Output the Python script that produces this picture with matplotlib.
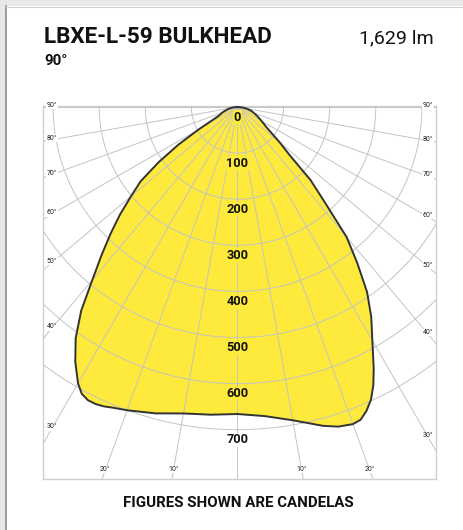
import numpy as np
import matplotlib
matplotlib.use("Agg")
import matplotlib.pyplot as plt
from matplotlib.patches import Rectangle

# ---------------- data ----------------
title = "LBXE-L-59 BULKHEAD"
subtitle = "90°"
lumens = "1,629 lm"
footer = "FIGURES SHOWN ARE CANDELAS"

ring_values = [0, 100, 200, 300, 400, 500, 600, 700]
angle_ticks = [10, 20, 30, 40, 50, 60, 70, 80, 90]

# gamma angles (deg, 0 = straight down, negative = left half, positive = right half)
angles = [-90, -85, -80, -75, -70, -65, -62.5, -60, -57.5, -55, -52.5, -50, -47.5,
          -45, -42.5, -40, -37.5, -35, -32.5, -30, -28.5, -27, -25.5, -24, -22.5, -20,
          -15, -10, -5,
          0, 5, 10, 15, 17.5, 20, 21.5, 23, 24.5, 26, 27.5, 30, 32.5, 35, 37.5, 40,
          42.5, 45, 47.5, 50, 55, 60, 65, 70, 75, 80, 85, 90]
candelas = [0, 10, 18, 25, 35, 45, 60, 97, 152, 209, 265, 302, 346,
            390, 437, 490, 557, 612, 655, 692, 708, 714, 714, 711, 706, 700,
            688, 675, 670,
            666, 673, 690, 716, 727, 732, 729, 716, 698, 672, 640, 585, 540, 490, 427, 368,
            280, 224, 150, 120, 77, 60, 48, 38, 30, 20, 10, 0]

# ---------------- layout ----------------
W, H = 464, 530
fig = plt.figure(figsize=(W / 100, H / 100), dpi=100)
fig.patch.set_facecolor("white")

# page frame (grey strips at top/left)
fig.patches.append(Rectangle((0, 1 - 6 / H), 1, 6 / H, transform=fig.transFigure,
                             facecolor="#e8e8e8", edgecolor="none", zorder=0))
fig.patches.append(Rectangle((0, 0), 6 / W, 1, transform=fig.transFigure,
                             facecolor="#e8e8e8", edgecolor="none", zorder=0))
fig.add_artist(plt.Line2D([6.5 / W, 6.5 / W], [0, 1 - 6 / H], transform=fig.transFigure,
                          color="#8c8c8c", lw=1.2))
fig.add_artist(plt.Line2D([6.5 / W, 1], [1 - 6.5 / H, 1 - 6.5 / H], transform=fig.transFigure,
                          color="#cfcfcf", lw=0.8))

fam = ["Roboto", "DejaVu Sans"]
fig.text(44 / W, 1 - 43 / H, title, fontsize=16.2, fontweight="bold", family=fam,
         ha="left", va="baseline", color="#111111")
fig.text(434 / W, 1 - 43 / H, lumens, fontsize=14, family=fam,
         ha="right", va="baseline", color="#111111")
fig.text(44 / W, 1 - 65 / H, subtitle, fontsize=10.8, fontweight="bold", family=fam,
         ha="left", va="baseline", color="#111111")
fig.text(238 / W, 1 - 507 / H, footer, fontsize=10.8, fontweight="bold", family=fam,
         ha="center", va="baseline", color="#111111")

# polar diagram box (pixel geometry)
L, R, T, B = 43, 436, 106, 479
cx, cy = 237.5, 107.0
s = 0.461  # px per candela

ax = fig.add_axes([L / W, 1 - B / H, (R - L) / W, (B - T) / H])
ax.set_xlim((L - cx) / s, (R - cx) / s)
ax.set_ylim(-(B - cy) / s, (cy - T) / s)
ax.set_aspect("auto")
ax.set_xticks([])
ax.set_yticks([])
for sp in ax.spines.values():
    sp.set_color("#cfcfcf")
    sp.set_linewidth(1.0)

gcol = "#c4c4c4"
glw = 0.7
# rings
th = np.linspace(0, 2 * np.pi, 721)
for rv in ring_values[1:]:
    ax.plot(rv * np.sin(th), -rv * np.cos(th), color=gcol, lw=glw, zorder=3)
# radial lines every 10 deg
big = 2000
for a in range(-90, 91, 10):
    t = np.radians(a)
    ax.plot([0, big * np.sin(t)], [0, -big * np.cos(t)], color=gcol, lw=glw, zorder=3)

# photometric curve
g = np.radians(np.array(angles, dtype=float))
c = np.array(candelas, dtype=float)
xs = c * np.sin(g)
ys = -c * np.cos(g)
ax.fill(xs, ys, facecolor="#feea3c", edgecolor="none", zorder=1)
ax.plot(xs, ys, color="#333333", lw=1.4, zorder=4, solid_joinstyle="round")

# ring labels
for rv in ring_values:
    inside = rv <= 600
    ax.text(0, -(rv + 22), str(rv), ha="center", va="center", fontsize=9.2,
            fontweight="bold", family=fam, color="#111111", zorder=6,
            bbox=dict(boxstyle="square,pad=0.05", fc="#feea3c" if inside else "white",
                      ec="none"))

# angle labels placed where each line crosses an inner rectangle
iL, iR, iB = (52 - cx) / s, (428 - cx) / s, -(471 - cy) / s
for a in angle_ticks:
    for sgn in (-1, 1):
        t = np.radians(a)
        dx, dy = sgn * np.sin(t), -np.cos(t)
        cand = []
        if abs(dx) > 1e-9:
            cand.append(((iR if sgn > 0 else iL)) / dx)
        if abs(dy) > 1e-9:
            cand.append(iB / dy)
        k = min(v for v in cand if v > 0)
        px, py = k * dx, k * dy
        if a == 90:
            py = 0
        ax.text(px, py + 3, f"{a}°", ha="center", va="center", fontsize=5,
                family=fam, color="#222222", zorder=6,
                bbox=dict(boxstyle="square,pad=0.05", fc="white", ec="none"))

fig.savefig("out.png", dpi=100)
